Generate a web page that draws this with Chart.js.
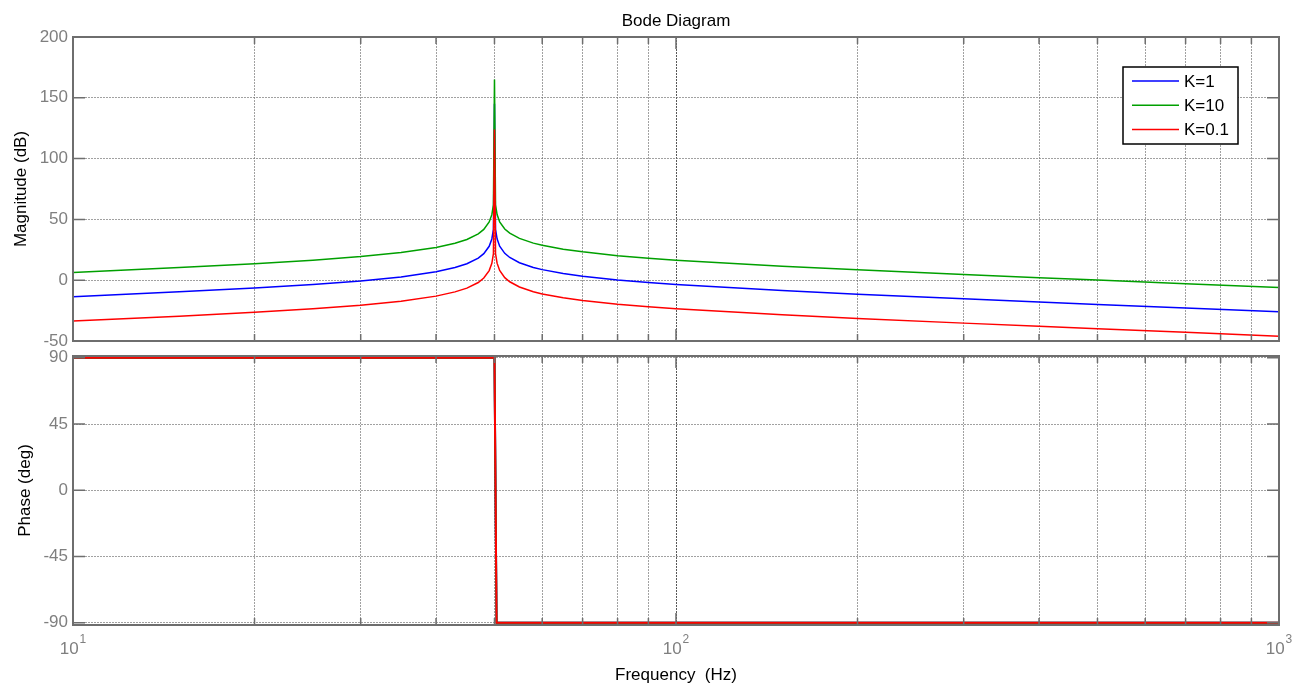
<!DOCTYPE html>
<html>
<head>
<meta charset="utf-8">
<title>Bode Diagram</title>
<script src="https://cdn.jsdelivr.net/npm/chart.js@4/dist/chart.umd.min.js"></script>
<style>
  html, body { margin: 0; padding: 0; background: #fff; overflow: hidden; }
  #wrap { position: relative; width: 1306px; height: 688px; }
  #magChart { position: absolute; left: 0; top: 0; }
  #phaseChart { position: absolute; left: 0; top: 346px; }
</style>
</head>
<body>
<div id="wrap">
  <canvas id="magChart" width="1306" height="352"></canvas>
  <canvas id="phaseChart" width="1306" height="342"></canvas>
</div>
<script>
// frequency samples (Hz)
var freqHz = [10, 15, 20, 25, 30, 35, 40, 43, 45, 47, 48, 49, 49.5, 49.8, 50, 50.2, 50.5, 51, 52, 53, 55, 58, 60, 65, 70, 80, 90, 100, 150, 200, 300, 400, 500, 700, 1000];

// magnitude (dB) per gain
var magK1  = [-13.6, -9.6, -6.4, -3.5, -0.6, 2.7, 6.9, 10.4, 13.5, 18.1, 21.8, 27.9, 33.9, 41.9, 145, 41.9, 34.0, 28.0, 22.1, 18.7, 14.4, 10.5, 8.7, 5.5, 3.3, 0.2, -1.9, -3.5, -8.5, -11.5, -15.3, -17.9, -19.9, -22.9, -26.0];
var magK10 = [6.4, 10.4, 13.6, 16.5, 19.4, 22.7, 26.9, 30.4, 33.5, 38.1, 41.8, 47.9, 53.9, 61.9, 165, 61.9, 54.0, 48.0, 42.1, 38.7, 34.4, 30.5, 28.7, 25.5, 23.3, 20.2, 18.1, 16.5, 11.5, 8.5, 4.7, 2.1, 0.1, -2.9, -6.0];
var magK01 = [-33.6, -29.6, -26.4, -23.5, -20.6, -17.3, -13.1, -9.6, -6.5, -1.9, 1.8, 7.9, 13.9, 21.9, 124, 21.9, 14.0, 8.0, 2.1, -1.3, -5.6, -9.5, -11.3, -14.5, -16.7, -19.8, -21.9, -23.5, -28.5, -31.5, -35.3, -37.9, -39.9, -42.9, -46.0];

// phase (deg) per gain
var phaseFreqHz = [10, 50, 50.4, 1000];
var phaseK1  = [90, 90, -90, -90];
var phaseK10 = [90, 90, -90, -90];
var phaseK01 = [90, 90, -90, -90];

// axis ticks
var freqTicks = [10, 20, 30, 40, 50, 60, 70, 80, 90, 100, 200, 300, 400, 500, 600, 700, 800, 900, 1000];
var decadeTicks = [10, 100, 1000];
var magTicks = [-50, 0, 50, 100, 150, 200];
var phaseTicks = [-90, -45, 0, 45, 90];

var seriesLabels = ['K=1', 'K=10', 'K=0.1'];
var seriesColors = ['#0000ff', '#00a000', '#ff0000'];

var FONT = '"Liberation Sans", Arial, sans-serif';
var TICK_GRAY = '#7f7f7f';
var BOX_GRAY = '#6e6e6e';

function toPoints(xs, ys) {
    return xs.map(function(x, i) { return { x: x, y: ys[i] }; });
}

function setTicks(values) {
    return function(scale) {
        scale.ticks = values.map(function(v) { return { value: v }; });
    };
}

function gridColor(ctx) {
    if (ctx.tick && decadeTicks.indexOf(ctx.tick.value) !== -1) return 'rgba(60,60,60,0.85)';
    return 'rgba(110,110,110,0.65)';
}

// axes box with inward tick marks on all four sides
var axesBox = {
    id: 'axesBox',
    afterDraw: function(chart) {
        var a = chart.chartArea, ctx = chart.ctx;
        var xs = chart.scales.x, ys = chart.scales.y;
        ctx.save();
        ctx.strokeStyle = BOX_GRAY;
        ctx.lineWidth = 1.5;
        ys.ticks.forEach(function(t) {
            var py = ys.getPixelForValue(t.value);
            ctx.beginPath();
            ctx.moveTo(a.left, py); ctx.lineTo(a.left + 12, py);
            ctx.moveTo(a.right, py); ctx.lineTo(a.right - 12, py);
            ctx.stroke();
        });
        xs.ticks.forEach(function(t) {
            var px = xs.getPixelForValue(t.value);
            var len = decadeTicks.indexOf(t.value) !== -1 ? 12 : 7;
            ctx.beginPath();
            ctx.moveTo(px, a.top); ctx.lineTo(px, a.top + len);
            ctx.moveTo(px, a.bottom); ctx.lineTo(px, a.bottom - len);
            ctx.stroke();
        });
        ctx.lineWidth = 2;
        ctx.strokeRect(a.left, a.top, a.right - a.left, a.bottom - a.top);
        ctx.restore();
    }
};

// plot title centred over the axes
var plotTitle = {
    id: 'plotTitle',
    afterDraw: function(chart, args, opts) {
        if (!opts.text) return;
        var a = chart.chartArea, ctx = chart.ctx;
        ctx.save();
        ctx.font = '17px ' + FONT;
        ctx.fillStyle = '#000';
        ctx.textAlign = 'center';
        ctx.textBaseline = 'middle';
        ctx.fillText(opts.text, (a.left + a.right) / 2, 21);
        ctx.restore();
    }
};

// boxed legend in the upper right corner of the axes
var boxLegend = {
    id: 'boxLegend',
    afterDraw: function(chart, args, opts) {
        if (!opts.show) return;
        var a = chart.chartArea, ctx = chart.ctx;
        var right = a.right - 41, top = a.top + 30, w = 115, h = 77;
        var left = right - w;
        ctx.save();
        ctx.fillStyle = '#fff';
        ctx.fillRect(left, top, w, h);
        ctx.strokeStyle = '#000';
        ctx.lineWidth = 1.5;
        ctx.strokeRect(left, top, w, h);
        ctx.font = '17px ' + FONT;
        ctx.textBaseline = 'middle';
        ctx.textAlign = 'left';
        chart.data.datasets.forEach(function(ds, i) {
            var y = top + 14 + i * 24.3;
            ctx.strokeStyle = ds.borderColor;
            ctx.lineWidth = 1.5;
            ctx.beginPath();
            ctx.moveTo(left + 9, y); ctx.lineTo(left + 56, y);
            ctx.stroke();
            ctx.fillStyle = '#000';
            ctx.fillText(ds.label, left + 61, y + 1);
        });
        ctx.restore();
    }
};

// decade labels 10^n with raised exponent
var decadeLabels = {
    id: 'decadeLabels',
    afterDraw: function(chart, args, opts) {
        if (!opts.show) return;
        var xs = chart.scales.x, ctx = chart.ctx;
        ctx.save();
        ctx.fillStyle = TICK_GRAY;
        ctx.textBaseline = 'alphabetic';
        ctx.textAlign = 'left';
        decadeTicks.forEach(function(v) {
            var exp = String(Math.round(Math.log10(v)));
            ctx.font = '17px ' + FONT;
            var wBase = ctx.measureText('10').width;
            ctx.font = '12px ' + FONT;
            var wExp = ctx.measureText(exp).width;
            var x0 = xs.getPixelForValue(v) - (wBase + 1 + wExp) / 2;
            ctx.font = '17px ' + FONT;
            ctx.fillText('10', x0, xs.top + 29);
            ctx.font = '12px ' + FONT;
            ctx.fillText(exp, x0 + wBase + 1, xs.top + 18);
        });
        ctx.restore();
    }
};

function lineSet(label, color, xs, ys, order, width) {
    return {
        label: label,
        data: toPoints(xs, ys),
        borderColor: color,
        backgroundColor: color,
        borderWidth: width,
        pointRadius: 0,
        tension: 0,
        fill: false,
        order: order
    };
}

function xScale(showTitle) {
    return {
        type: 'logarithmic',
        min: 10,
        max: 1000,
        afterBuildTicks: setTicks(freqTicks),
        ticks: { display: false },
        grid: { color: gridColor, lineWidth: 1, drawTicks: false },
        border: { display: false, dash: [2, 1] },
        title: {
            display: showTitle,
            text: 'Frequency  (Hz)',
            color: '#000',
            font: { family: FONT, size: 17 },
            padding: { top: 0, bottom: 2 }
        },
        afterFit: function(s) {
            s.height = showTitle ? 63 : 0;
            s.paddingLeft = 0;
            s.paddingRight = 0;
        }
    };
}

function yScale(title, min, max, ticks, titlePad) {
    return {
        min: min,
        max: max,
        afterBuildTicks: setTicks(ticks),
        ticks: { color: TICK_GRAY, font: { family: FONT, size: 17 }, padding: 5 },
        grid: { color: 'rgba(110,110,110,0.65)', lineWidth: 1, drawTicks: false },
        border: { display: false, dash: [2, 1] },
        title: {
            display: true,
            text: title,
            color: '#000',
            font: { family: FONT, size: 17 },
            padding: { top: titlePad, bottom: 0 }
        },
        afterFit: function(s) {
            s.width = 73;
            s.paddingTop = 0;
            s.paddingBottom = 0;
        }
    };
}

var magChart = new Chart(document.getElementById('magChart'), {
    type: 'line',
    data: {
        datasets: [
            lineSet(seriesLabels[0], seriesColors[0], freqHz, magK1, 3, 1.5),
            lineSet(seriesLabels[1], seriesColors[1], freqHz, magK10, 2, 1.5),
            lineSet(seriesLabels[2], seriesColors[2], freqHz, magK01, 1, 1.5)
        ]
    },
    options: {
        responsive: false,
        animation: false,
        layout: { padding: { top: 37, right: 27, bottom: 11, left: 0 } },
        scales: {
            x: xScale(false),
            y: yScale('Magnitude (dB)', -50, 200, magTicks, 11)
        },
        plugins: {
            legend: { display: false },
            tooltip: { enabled: false },
            plotTitle: { text: 'Bode Diagram' },
            boxLegend: { show: true },
            decadeLabels: { show: false }
        }
    },
    plugins: [axesBox, plotTitle, boxLegend, decadeLabels]
});

var phaseChart = new Chart(document.getElementById('phaseChart'), {
    type: 'line',
    data: {
        datasets: [
            lineSet(seriesLabels[0], seriesColors[0], phaseFreqHz, phaseK1, 3, 2),
            lineSet(seriesLabels[1], seriesColors[1], phaseFreqHz, phaseK10, 2, 2),
            lineSet(seriesLabels[2], seriesColors[2], phaseFreqHz, phaseK01, 1, 2)
        ]
    },
    options: {
        responsive: false,
        animation: false,
        layout: { padding: { top: 10, right: 27, bottom: 0, left: 0 } },
        scales: {
            x: xScale(true),
            y: yScale('Phase (deg)', -91.5, 91.2, phaseTicks, 15)
        },
        plugins: {
            legend: { display: false },
            tooltip: { enabled: false },
            plotTitle: { text: '' },
            boxLegend: { show: false },
            decadeLabels: { show: true }
        }
    },
    plugins: [axesBox, plotTitle, boxLegend, decadeLabels]
});
</script>
</body>
</html>
